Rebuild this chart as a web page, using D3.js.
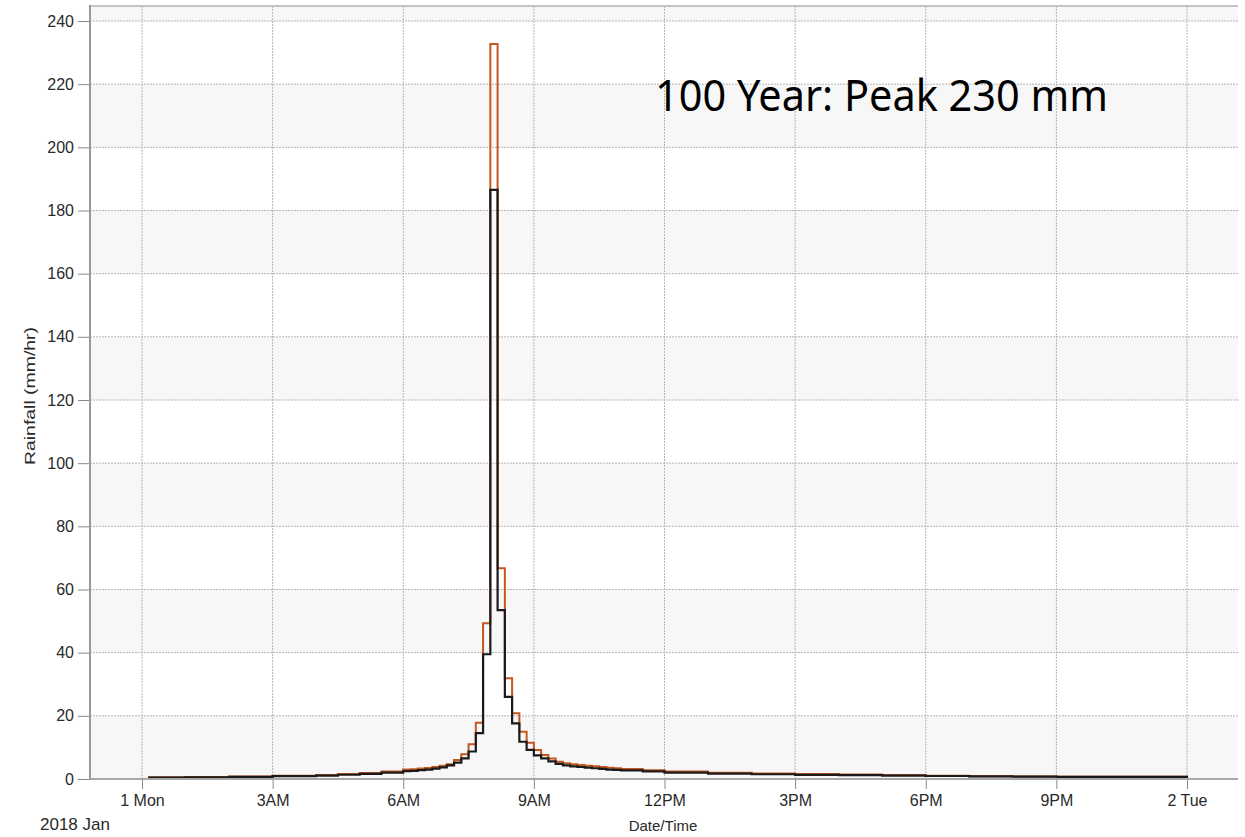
<!DOCTYPE html>
<html>
<head>
<meta charset="utf-8">
<script src="https://cdn.jsdelivr.net/npm/d3@7"></script>
<style>
  html, body { margin: 0; padding: 0; background: #fff; }
  svg { display: block; }
  .tick-label { font-family: "Liberation Sans", Arial, sans-serif; font-size: 16px; fill: #2a2a2a; }
</style>
</head>
<body>
<svg id="chart" width="1245" height="837"></svg>
<script>
// Step start times (HH:MM on 1 Jan 2018); each step lasts until the next one
const stepTimes = [
  '00:10', '01:00', '02:00', '03:00', '04:00', '04:30', '05:00', '05:30',
  '06:00', '06:10', '06:20', '06:30', '06:40', '06:50',
  '07:00', '07:10', '07:20', '07:30', '07:40', '07:50',
  '08:00', '08:10', '08:20', '08:30', '08:40', '08:50',
  '09:00', '09:10', '09:20', '09:30', '09:40', '09:50',
  '10:00', '10:10', '10:20', '10:30', '10:40', '10:50',
  '11:00', '11:30', '12:00', '13:00', '14:00', '15:00', '16:00', '17:00',
  '18:00', '19:00', '20:00', '21:00', '22:00'
];
const stormEnd = '24:00';

// 100 year storm (orange) and the lower storm (black), mm/hr
const orangeRain = [
  0.55, 0.65, 0.8, 1.0, 1.3, 1.6, 1.9, 2.4,
  3.0, 3.1, 3.3, 3.5, 3.8, 4.2,
  4.7, 6.0, 7.8, 11.0, 17.8, 49.3,
  232.7, 66.7, 31.9, 20.8, 15.0, 11.5,
  9.2, 7.6, 6.5, 5.5, 5.0, 4.7,
  4.4, 4.2, 4.0, 3.8, 3.6, 3.4,
  3.2, 2.8, 2.4, 2.0, 1.75, 1.55, 1.4, 1.3,
  1.0, 0.9, 0.8, 0.75, 0.7
];
const blackRain = [
  0.45, 0.55, 0.7, 0.9, 1.1, 1.35, 1.6, 2.0,
  2.5, 2.6, 2.8, 3.0, 3.3, 3.7,
  4.3, 5.2, 6.5, 8.7, 14.5, 39.5,
  186.5, 53.5, 26.0, 17.6, 11.8, 9.2,
  7.5, 6.5, 5.6, 4.8, 4.3, 4.0,
  3.8, 3.6, 3.4, 3.2, 3.0, 2.9,
  2.7, 2.4, 2.0, 1.7, 1.5, 1.3, 1.2, 1.1,
  0.95, 0.85, 0.75, 0.7, 0.65
];

const yTicks = [0, 20, 40, 60, 80, 100, 120, 140, 160, 180, 200, 220, 240];
const annotation = '100 Year: Peak 230 mm';

// layout
const plotLeft = 90, plotRight = 1238, plotTop = 6, plotBottom = 779;

const day0 = new Date(2018, 0, 1);
function toDate(hhmm) {
  const [h, m] = hhmm.split(':').map(Number);
  return new Date(day0.getTime() + (h * 60 + m) * 60000);
}

const x = d3.scaleTime()
  .domain([day0, d3.timeDay.offset(day0, 1)])
  .range([142, 1187]);

const y = d3.scaleLinear()
  .domain([0, 240])
  .range([plotBottom, 21]);

const svg = d3.select('#chart');

// alternating bands between gridlines
const topValue = y.invert(plotTop);
const bands = yTicks.filter((v, i) => i % 2 === 0)
  .map(v => [v, Math.min(v + 20, topValue)]);

svg.append('g')
  .selectAll('rect')
  .data(bands)
  .join('rect')
  .attr('x', plotLeft)
  .attr('width', plotRight - plotLeft)
  .attr('y', d => y(d[1]))
  .attr('height', d => y(d[0]) - y(d[1]))
  .attr('fill', '#f7f7f7');

// gridlines
const xTicks = d3.timeHour.every(3).range(day0, d3.timeHour.offset(d3.timeDay.offset(day0, 1), 1));

svg.append('g')
  .selectAll('line')
  .data(yTicks.slice(1))
  .join('line')
  .attr('x1', plotLeft)
  .attr('x2', plotRight)
  .attr('y1', d => y(d))
  .attr('y2', d => y(d))
  .attr('stroke', '#b5b5b5')
  .attr('stroke-width', 1)
  .attr('stroke-dasharray', '2,1');

svg.append('g')
  .selectAll('line')
  .data(xTicks)
  .join('line')
  .attr('x1', d => x(d))
  .attr('x2', d => x(d))
  .attr('y1', plotTop)
  .attr('y2', plotBottom)
  .attr('stroke', '#b5b5b5')
  .attr('stroke-width', 1)
  .attr('stroke-dasharray', '2,1');

// top frame
svg.append('line')
  .attr('x1', plotLeft).attr('x2', plotRight)
  .attr('y1', plotTop).attr('y2', plotTop)
  .attr('stroke', '#c4c4c4')
  .attr('stroke-width', 2);

// step series
function stepPoints(values) {
  const pts = [[toDate(stepTimes[0]), 0]];
  values.forEach((v, i) => pts.push([toDate(stepTimes[i]), v]));
  pts.push([toDate(stormEnd), values[values.length - 1]]);
  pts.push([toDate(stormEnd), 0]);
  return pts;
}

const stepLine = d3.line()
  .x(d => x(d[0]))
  .y(d => y(d[1]))
  .curve(d3.curveStepAfter);

svg.append('path')
  .datum(stepPoints(orangeRain))
  .attr('fill', 'none')
  .attr('stroke', '#c4561f')
  .attr('stroke-width', 2)
  .attr('d', stepLine);

svg.append('path')
  .datum(stepPoints(blackRain))
  .attr('fill', 'none')
  .attr('stroke', '#1a1a1a')
  .attr('stroke-width', 2.2)
  .attr('d', stepLine);

// y axis
const yAxis = d3.axisLeft(y)
  .tickValues(yTicks)
  .tickSize(12)
  .tickPadding(4);

const yAxisG = svg.append('g')
  .attr('transform', `translate(${plotLeft},0)`)
  .call(yAxis);
yAxisG.select('.domain').remove();
yAxisG.selectAll('.tick line').attr('stroke', '#8a8a8a');
yAxisG.selectAll('.tick text').attr('class', 'tick-label').attr('fill', null);

svg.append('line')
  .attr('x1', plotLeft).attr('x2', plotLeft)
  .attr('y1', plotTop - 1).attr('y2', plotBottom)
  .attr('stroke', '#999')
  .attr('stroke-width', 2);

// x axis
const fmtHour = d3.timeFormat('%-I%p');
const fmtDay = d3.timeFormat('%-d %a');
const xAxis = d3.axisBottom(x)
  .tickValues(xTicks)
  .tickSize(10)
  .tickPadding(6)
  .tickFormat(d => d.getHours() === 0 ? fmtDay(d) : fmtHour(d));

const xAxisG = svg.append('g')
  .attr('transform', `translate(0,${plotBottom})`)
  .call(xAxis);
xAxisG.select('.domain').remove();
xAxisG.selectAll('.tick line').attr('stroke', '#8a8a8a');
xAxisG.selectAll('.tick text').attr('class', 'tick-label').attr('fill', null);

svg.append('line')
  .attr('x1', plotLeft).attr('x2', plotRight)
  .attr('y1', plotBottom).attr('y2', plotBottom)
  .attr('stroke', '#a8a8a8')
  .attr('stroke-width', 2);

// axis titles
svg.append('text')
  .attr('class', 'tick-label')
  .attr('x', 40)
  .attr('y', 830)
  .style('font-size', '17px')
  .text(d3.timeFormat('%Y %b')(day0));

svg.append('text')
  .attr('class', 'tick-label')
  .attr('x', 663)
  .attr('y', 831)
  .attr('text-anchor', 'middle')
  .style('font-size', '15px')
  .text('Date/Time');

svg.append('text')
  .attr('class', 'tick-label')
  .attr('transform', 'translate(35,396) rotate(-90)')
  .attr('text-anchor', 'middle')
  .attr('textLength', 138)
  .attr('lengthAdjust', 'spacingAndGlyphs')
  .style('font-size', '14px')
  .text('Rainfall (mm/hr)');

// annotation
svg.append('text')
  .attr('x', 655)
  .attr('y', 111)
  .attr('textLength', 453)
  .attr('lengthAdjust', 'spacingAndGlyphs')
  .style('font-family', '"Noto Sans", "Open Sans", sans-serif')
  .style('font-size', '43px')
  .attr('fill', '#000')
  .text(annotation);
</script>
</body>
</html>
